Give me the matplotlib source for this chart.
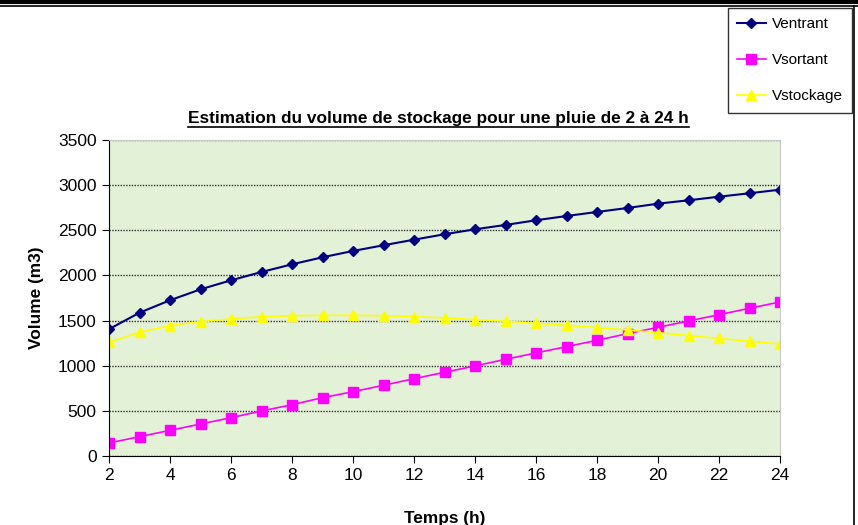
import matplotlib
matplotlib.use("Agg")
import matplotlib.pyplot as plt
from matplotlib.lines import Line2D

plt.rcParams['font.family'] = ['Liberation Sans', 'DejaVu Sans']

# Data
temps = list(range(2, 25))
v_entrant = [1405, 1587, 1725, 1846, 1946, 2038, 2123, 2201, 2271, 2334, 2396, 2456,
             2511, 2559, 2611, 2658, 2703, 2747, 2795, 2832, 2872, 2910, 2950]
v_sortant = [144, 214, 284, 354, 424, 499, 568, 646, 712, 783, 856, 927,
             997, 1071, 1141, 1211, 1281, 1355, 1425, 1495, 1565, 1636, 1706]
v_stockage = [1259, 1370, 1444, 1488, 1518, 1543, 1554, 1558, 1558, 1554, 1543, 1529,
              1510, 1492, 1470, 1448, 1421, 1396, 1366, 1333, 1303, 1270, 1241]
xticks = list(range(2, 25, 2))
yticks = list(range(0, 3501, 500))

fig = plt.figure(figsize=(8.58, 5.25), dpi=100)
ax = fig.add_axes([109 / 858, 1 - 456 / 525, (780 - 109) / 858, (456 - 140) / 525])
ax.set_facecolor('#e3f1d6')

ax.plot(temps, v_entrant, color='#000080', marker='D', markersize=5, lw=1.5, label='Ventrant')
ax.plot(temps, v_sortant, color='#ff00ff', marker='s', markersize=7, lw=1.2, label='Vsortant')
ax.plot(temps, v_stockage, color='#ffff00', marker='^', markersize=7, lw=1.2, label='Vstockage')

ax.set_xlim(2, 24)
ax.set_ylim(0, 3500)
ax.set_xticks(xticks)
ax.set_yticks(yticks)
ax.tick_params(labelsize=12.5, direction='out', length=5, color='black', pad=4)
ax.yaxis.grid(True, color='#333333', linestyle=(0, (1, 1)), lw=1.0)
ax.set_axisbelow(True)
for s in ['top', 'right']:
    ax.spines[s].set_color('#c8c8c8')
ax.spines['left'].set_color('black')
ax.spines['bottom'].set_color('black')

ax.set_xlabel('Temps (h)', fontsize=12.4, fontweight='bold', labelpad=20)
ax.set_ylabel('Volume (m3)', fontsize=12.4, fontweight='bold', labelpad=10)

title = fig.text(0.511, 1 - 118 / 525, 'Estimation du volume de stockage pour une pluie de 2 à 24 h',
                 ha='center', va='center', fontsize=12.4, fontweight='bold')

leg = fig.legend(loc='upper right', bbox_to_anchor=(852 / 858, 1 - 8 / 525),
                 fontsize=11, frameon=True, fancybox=False, edgecolor='black',
                 labelspacing=1.45, handlelength=1.9, handletextpad=0.4,
                 borderpad=0.6, borderaxespad=0)
leg.get_frame().set_linewidth(1.0)

# underline title
fig.canvas.draw()
bb = title.get_window_extent().transformed(fig.transFigure.inverted())
fig.add_artist(Line2D([bb.x0, bb.x1], [bb.y0 - 0.002, bb.y0 - 0.002], color='black', lw=1.2,
                      transform=fig.transFigure))

# frame lines at top and right
fig.add_artist(Line2D([2 / 858, 1], [1 - 1.5 / 525, 1 - 1.5 / 525], color='black', lw=3,
                      transform=fig.transFigure))
fig.add_artist(Line2D([0, 1], [1 - 6 / 525, 1 - 6 / 525], color='black', lw=1.2,
                      transform=fig.transFigure))
fig.add_artist(Line2D([854 / 858, 854 / 858], [0, 1 - 6 / 525], color='black', lw=1.2,
                      transform=fig.transFigure))

fig.savefig('out.png', dpi=100)
